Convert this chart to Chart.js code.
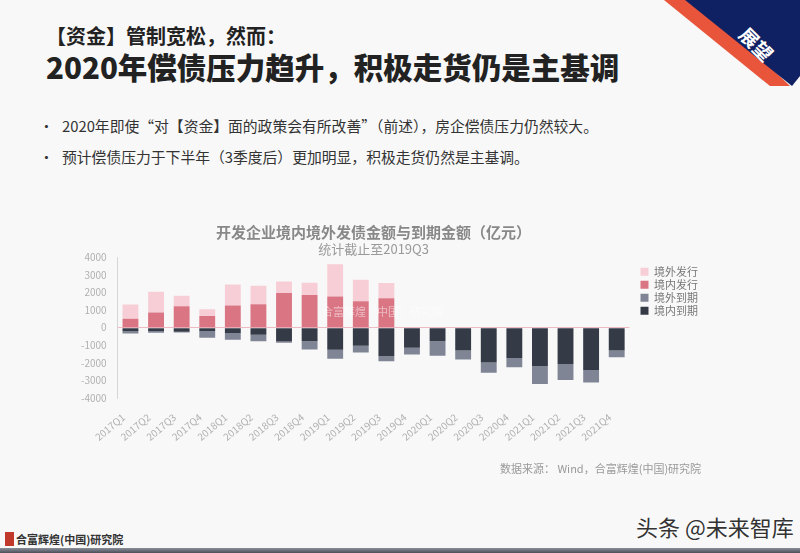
<!DOCTYPE html>
<html>
<head>
<meta charset="utf-8">
<script src="https://cdn.jsdelivr.net/npm/chart.js@4/dist/chart.umd.min.js"></script>
<style>
  html, body { margin: 0; padding: 0; }
  body {
    width: 800px; height: 553px; position: relative; overflow: hidden;
    background: #f8f8f8; font-family: "Noto Sans CJK SC", "Noto Sans", sans-serif; color: #222;
  }
  .abs { position: absolute; white-space: nowrap; }
  #corner-red { position: absolute; left: 0; top: 0; width: 800px; height: 100px; background: #e8553a;
    clip-path: polygon(664px 0, 700px 0, 790px 86px, 770px 86px); }
  #corner-blue { position: absolute; left: 0; top: 0; width: 800px; height: 100px; background: #0f2163;
    clip-path: polygon(685px 0, 800px 0, 800px 76px, 792px 86px); }
  #corner-text { left: 738px; top: 30px; color: #fff; font-size: 19px; font-weight: 700; transform: rotate(45deg); }
  .bullet { font-size: 14.8px; color: #333; }
  #chart-box { position: absolute; left: 70px; top: 220px; width: 650px; height: 241px; }
</style>
</head>
<body>
<div id="corner-red"></div>
<div id="corner-blue"></div>
<div class="abs" id="corner-text">展望</div>

<div class="abs" style="left:46px; top:25px; font-size:20px; line-height:22px; font-weight:700;">【资金】管制宽松，然而：</div>
<div class="abs" style="left:46px; top:50px; font-size:29.5px; line-height:32px; font-weight:900;">2020年偿债压力趋升，积极走货仍是主基调</div>

<div class="abs bullet" style="left:39px; top:115px;">•</div>
<div class="abs bullet" style="left:62px; top:115px;">2020年即使“对【资金】面的政策会有所改善”（前述），房企偿债压力仍然较大。</div>
<div class="abs bullet" style="left:39px; top:146px;">•</div>
<div class="abs bullet" style="left:62px; top:146px;">预计偿债压力于下半年（3季度后）更加明显，积极走货仍然是主基调。</div>

<div id="chart-box"><canvas id="chart"></canvas></div>
<div class="abs" style="left:322px; top:303px; font-size:11px; color:rgba(255,255,255,0.5);">合富辉煌（中国）研究院</div>

<div class="abs" style="left:500px; top:460px; font-size:11px; color:#999;">数据来源： Wind，合富辉煌(中国)研究院</div>

<div class="abs" style="left:5px; top:532px; width:9px; height:14px; background:#c0392b;"></div>
<div class="abs" style="left:16px; top:532px; font-size:11px; line-height:15px; font-weight:700; color:#333;">合富辉煌(中国)研究院</div>
<div class="abs" style="left:0; top:548px; width:800px; height:5px; background:linear-gradient(#8a8f99, #4a4f59);"></div>
<div class="abs" style="left:636px; top:510px; font-size:22px; color:#333; text-shadow:0 0 2px #fff, 0 0 2px #fff;">头条 @未来智库</div>

<script>
const quarters = ['2017Q1', '2017Q2', '2017Q3', '2017Q4', '2018Q1', '2018Q2', '2018Q3', '2018Q4',
    '2019Q1', '2019Q2', '2019Q3', '2019Q4', '2020Q1', '2020Q2', '2020Q3', '2020Q4',
    '2021Q1', '2021Q2', '2021Q3', '2021Q4'];

// 发行 (positive), 统计截止至2019Q3
const domesticIssue = [510, 860, 1220, 660, 1260, 1330, 1960, 1850, 1770, 1500, 1660,
    null, null, null, null, null, null, null, null, null];
const overseasIssue = [800, 1180, 590, 380, 1180, 1050, 650, 700, 1830, 1220, 870,
    null, null, null, null, null, null, null, null, null];

// 到期 (negative)
const domesticDue = [-200, -190, -230, -190, -310, -400, -780, -770, -1260, -1030, -1620,
    -1140, -770, -1300, -1980, -1720, -2190, -2060, -2400, -1300];
const overseasDue = [-130, -100, -50, -380, -380, -370, -80, -470, -500, -380, -290,
    -380, -820, -510, -570, -530, -1010, -910, -710, -380];

const yTicks = [4000, 3000, 2000, 1000, 0, -1000, -2000, -3000, -4000];

// legend shows 境外发行, 境内发行, 境外到期, 境内到期
const legendOrder = [1, 0, 3, 2];

const FONT = "'Noto Sans CJK SC', 'Noto Sans', sans-serif";

// leave a small gap between the bars and the legend
const legendGap = {
    id: 'legendGap',
    afterLayout: (chart) => {
        chart.legend.left += 9;
        chart.legend.right += 9;
    },
};

const ctx = document.getElementById("chart").getContext("2d");

new Chart(ctx, {
    type: "bar",
    data: {
        labels: quarters,
        datasets: [
            { label: "境内发行", data: domesticIssue, backgroundColor: "#da7584" },
            { label: "境外发行", data: overseasIssue, backgroundColor: "#f7ced6" },
            { label: "境内到期", data: domesticDue, backgroundColor: "#353a47" },
            { label: "境外到期", data: overseasDue, backgroundColor: "#7f8594" },
        ],
    },
    options: {
        responsive: true,
        maintainAspectRatio: false,
        animation: false,
        layout: { padding: { left: 0, right: 21, top: 0, bottom: 5 } },
        datasets: {
            bar: { categoryPercentage: 1, barPercentage: 0.62 },
        },
        plugins: {
            title: {
                display: true,
                fullSize: false,
                text: '开发企业境内境外发债金额与到期金额（亿元）',
                color: '#888',
                font: { family: FONT, size: 15, weight: 'bold' },
                padding: { top: 3, bottom: 0 },
            },
            subtitle: {
                display: true,
                fullSize: false,
                text: '统计截止至2019Q3',
                color: '#999',
                font: { family: FONT, size: 13 },
                padding: { top: 0.5, bottom: 0 },
            },
            legend: {
                position: 'right',
                align: 'start',
                fullSize: false,
                title: { display: true, text: '', font: { size: 6 }, padding: 0 },
                labels: {
                    boxWidth: 8,
                    boxHeight: 8,
                    padding: 2,
                    color: '#777',
                    font: { family: FONT, size: 11 },
                    sort: (a, b) => legendOrder.indexOf(a.datasetIndex) - legendOrder.indexOf(b.datasetIndex),
                },
            },
            tooltip: { enabled: false },
        },
        scales: {
            x: {
                stacked: true,
                grid: { display: false, drawTicks: false },
                border: { display: false },
                ticks: {
                    autoSkip: false,
                    minRotation: 40,
                    maxRotation: 40,
                    padding: 13,
                    labelOffset: -7,
                    color: '#b0b0b0',
                    font: { family: FONT, size: 10 },
                },
            },
            y: {
                stacked: true,
                min: -4000,
                max: 4000,
                afterBuildTicks: (axis) => { axis.ticks = yTicks.map((v) => ({ value: v })); },
                grid: {
                    drawTicks: false,
                    color: (c) => (c.tick && c.tick.value === 0 ? 'rgba(232,160,172,0.7)' : 'rgba(0,0,0,0)'),
                },
                border: { display: true, color: '#d6d6d6' },
                ticks: {
                    padding: 11,
                    color: '#b0b0b0',
                    font: { family: FONT, size: 10 },
                    callback: (v) => String(v),
                },
            },
        },
    },
    plugins: [legendGap],
});
</script>
</body>
</html>
